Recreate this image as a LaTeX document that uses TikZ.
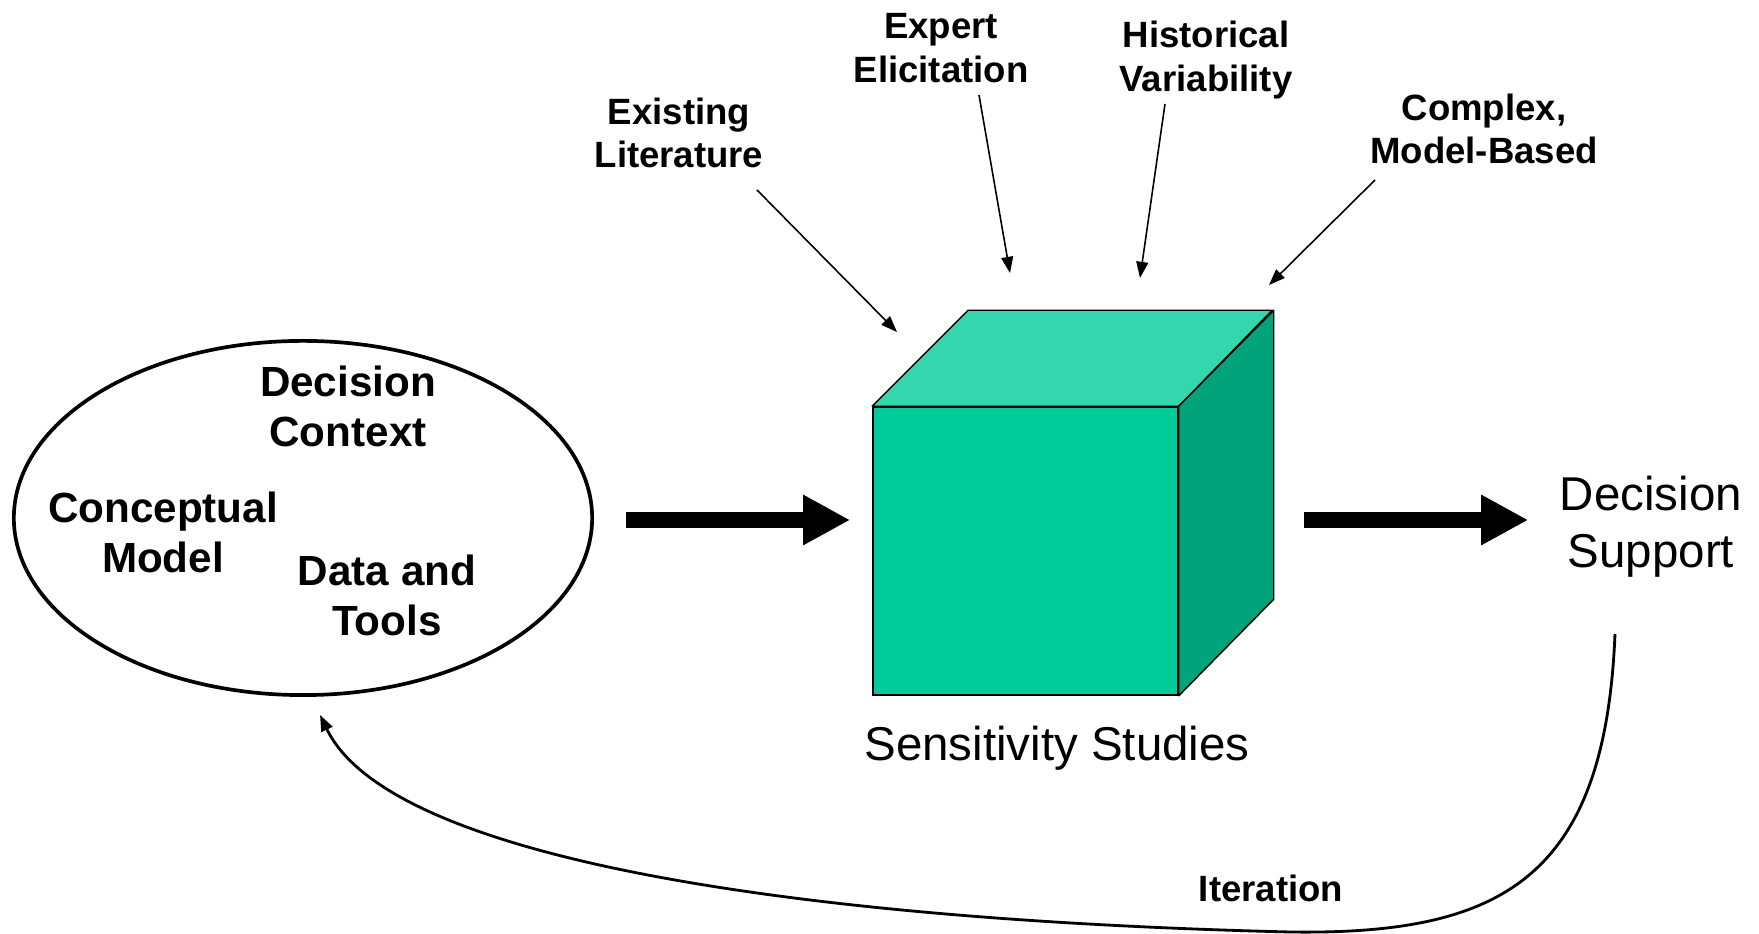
\documentclass[tikz,border=0pt]{standalone}
\usepackage{fontspec}
\setmainfont{Liberation Sans}
\usetikzlibrary{arrows.meta,calc,shapes.geometric}

\definecolor{cubefront}{HTML}{00CC99}
\definecolor{cubetop}{HTML}{33D6AD}
\definecolor{cubeside}{HTML}{00A37A}

\begin{document}
\begin{tikzpicture}[x=0.01cm,y=-0.01cm,
  lbl/.style={font=\bfseries\fontsize{10.4}{12.3}\selectfont, align=center, inner sep=0pt},
  inlbl/.style={font=\bfseries\fontsize{12}{14.2}\selectfont, align=center, inner sep=0pt},
  big/.style={font=\fontsize{13.5}{16.3}\selectfont, align=center, inner sep=0pt},
  feed/.style={line width=0.45pt, -{Triangle[length=4.6pt,width=3.4pt]}},
  fat/.style={line width=4.3pt, -{Triangle[length=13.4pt,width=13.4pt]}},
  loopback/.style={line width=0.8pt, -{Triangle[length=4.6pt,width=3.4pt]}}]
\useasboundingbox (0,0) rectangle (1759,934);
% left: the loop of three inputs
\node[draw, ellipse, line width=1.05pt, minimum width=5.78cm, minimum height=3.54cm, inner sep=0pt] (loop) at (303,518){};
\node[inlbl] (dc) at (348,406) {Decision\\Context};
\node[inlbl] (cm) at (163,532) {Conceptual\\Model};
\node[inlbl] (dt) at (387,595) {Data and\\Tools};
% the cube
\node[draw, fill=cubefront, line width=0.4pt, minimum width=3.05cm, minimum height=2.88cm, inner sep=0pt] (cube) at (1025.5,551){};
\filldraw[fill=cubetop, line width=0.4pt, line join=round] (cube.north west) -- ++(96,-96) -- ++(304,0) -- (cube.north east) -- cycle;
\filldraw[fill=cubeside, line width=0.4pt, line join=round] (cube.north east) -- ++(95,-96) -- ++(0,289) -- (cube.south east) -- cycle;
\node[big] (ss) at (1057,748) {Sensitivity Studies};
\node[big] (ds) at (1651,527) {Decision\\Support};
% sources on top
\node[lbl] (lit) at (679,133) {Existing\\Literature};
\node[lbl] (exp) at (941,48) {Expert\\Elicitation};
\node[lbl] (his) at (1206,60) {Historical\\Variability};
\node[lbl] (cmb) at (1484,129) {Complex,\\Model-Based};
\coordinate (litTip) at (897,332);
\coordinate (expTip) at (1010,273);
\coordinate (hisTip) at (1140,278);
\coordinate (cmbTip) at (1269,285);
\draw[feed] ($(lit)+(78,57)$) -- (litTip);
\draw[feed] ($(exp)+(38,47)$) -- (expTip);
\draw[feed] ($(his)+(-41,44)$) -- (hisTip);
\draw[feed] ($(cmb)+(-109,51)$) -- (cmbTip);
% main flow
\draw[fat] ($(loop.east)+(32,2)$) -- ($(cube.west|-loop.east)+(-22,2)$);
\draw[fat] ($(cube.east|-loop.east)+(125,2)$) -- ($(ds.west|-loop.east)+(-31,2)$);
% iteration back to the loop
\coordinate (itStart) at (1615,634);
\draw[loopback] (itStart) .. controls (1605,880) and (1500,935) .. (1290,932)
  .. controls (800,920) and (390,860) .. ($(loop.south)+(17,18)$);
\node[lbl] (it) at (1271,888) {Iteration};
\end{tikzpicture}
\end{document}
